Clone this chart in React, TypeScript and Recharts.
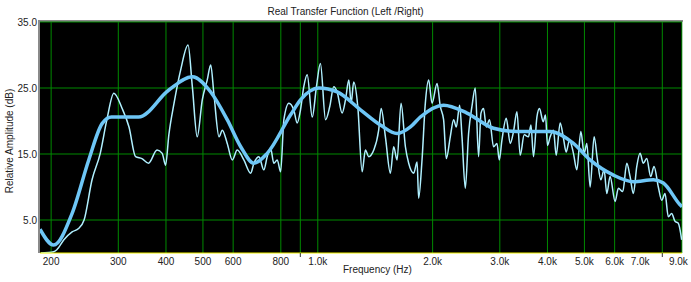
import React from "react";
import { LineChart, Line, XAxis, YAxis, CartesianGrid } from "recharts";

// smoothed (fractional-octave) response
const smoothFreq = [187, 203, 227, 251, 272, 288, 339, 407, 469, 524, 579, 628, 680, 737, 848, 901, 1006, 1124, 1294, 1459, 1614, 1749, 1857, 2137, 2461, 2888, 3327, 4066, 4679, 5174, 5956, 6719, 7580, 8051, 8903, 9010];
const smoothDb = [3.6, 1.2, 6.0, 14.1, 19.6, 20.6, 20.6, 24.7, 26.7, 24.4, 20.2, 16.1, 13.6, 15.1, 20.9, 23.2, 25.0, 24.4, 21.7, 19.4, 18.1, 19.1, 20.6, 22.4, 21.2, 18.9, 18.4, 18.4, 16.6, 14.1, 11.8, 10.8, 11.1, 10.6, 7.3, 7.0];

// raw response
const rawFreq = [
  188, 203, 207, 216, 227, 236, 244, 256, 269, 280, 292, 307, 320, 333, 346, 360, 379, 391, 399, 407,
  420, 437, 457, 469, 483, 498, 513, 524, 534, 551, 562, 579, 597, 615, 640, 667, 680, 701, 722, 737,
  752, 767, 783, 799, 815, 840, 865, 883, 901, 919, 938, 967, 992, 1016, 1048, 1075, 1101, 1124, 1158, 1182,
  1206, 1223, 1242, 1273, 1307, 1333, 1360, 1402, 1444, 1466, 1504, 1550, 1581, 1614, 1653, 1697, 1731, 1784, 1821, 1838,
  1876, 1914, 1953, 1993, 2054, 2095, 2137, 2172, 2225, 2270, 2307, 2354, 2388, 2436, 2485, 2536, 2587, 2639, 2678, 2720,
  2765, 2820, 2889, 2949, 2990, 3039, 3119, 3195, 3259, 3327, 3393, 3476, 3567, 3620, 3677, 3753, 3812, 3898, 3952, 4001,
  4066, 4148, 4216, 4319, 4405, 4478, 4568, 4679, 4776, 4893, 4991, 5073, 5175, 5301, 5408, 5520, 5631, 5723, 5838, 6017,
  6137, 6302, 6456, 6585, 6718, 6857, 6995, 7135, 7282, 7460, 7610, 7810, 7971, 8132, 8295, 8467, 8637, 8811, 8993,
];
const rawDb = [
  0.0, 0.2, 0.5, 2.0, 3.2, 3.7, 5.0, 11.1, 15.1, 20.2, 24.2, 21.9, 19.1, 14.6, 14.3, 13.6, 15.6, 15.1, 13.3, 17.9,
  22.7, 27.7, 31.5, 25.2, 17.6, 23.2, 26.2, 28.5, 24.2, 17.6, 18.6, 16.6, 14.1, 15.6, 14.1, 12.1, 13.6, 14.6, 12.6, 14.6,
  15.9, 13.6, 14.1, 12.3, 20.2, 22.7, 21.7, 19.7, 21.7, 25.2, 27.0, 20.6, 25.2, 28.7, 20.2, 22.2, 25.2, 24.4, 21.2, 23.2,
  26.2, 22.7, 25.9, 22.2, 12.3, 15.6, 14.6, 15.6, 18.6, 21.9, 17.6, 12.1, 16.1, 14.1, 22.7, 16.1, 13.6, 12.1, 13.8, 8.3,
  14.1, 22.7, 26.2, 22.7, 25.7, 22.2, 20.2, 14.3, 17.6, 20.2, 19.1, 22.4, 17.6, 9.8, 18.1, 22.2, 25.0, 14.6, 21.2, 21.9,
  19.1, 20.2, 16.1, 16.6, 14.1, 17.1, 20.4, 16.6, 18.4, 21.4, 14.8, 17.9, 17.6, 19.4, 14.6, 20.6, 21.9, 19.9, 20.9, 16.3,
  17.6, 18.6, 14.8, 19.7, 17.4, 15.3, 17.1, 15.1, 12.6, 18.4, 15.1, 16.6, 10.0, 17.6, 14.1, 11.1, 12.6, 9.0, 11.6, 7.8,
  9.8, 9.3, 13.6, 11.6, 9.0, 13.1, 15.1, 13.6, 14.3, 11.6, 13.1, 10.0, 8.0, 9.0, 5.5, 6.0, 4.8, 4.5, 2.0,
];

const gridFreqs = [200, 300, 400, 500, 600, 800, 900, 1000, 2000, 3000, 4000, 5000, 6000, 8000, 9000];
const tickFreqs = [200, 300, 400, 500, 600, 800, 900, 1000, 2000, 3000, 4000, 5000, 6000, 7000, 8000, 9000];
const tickLabels = ["200", "300", "400", "500", "600", "800", "", "1.0k", "2.0k", "3.0k", "4.0k", "5.0k", "6.0k", "7.0k", "", "9.0k"];
const dbTicks = [5, 15, 25, 35];

const smoothData = smoothFreq.map((f, i) => ({ f, db: smoothDb[i] }));
const rawData = rawFreq.map((f, i) => ({ f, db: rawDb[i] }));

const FONT = '"Liberation Sans", Arial, sans-serif';
const GREEN = "#008a00";

function FreqTick(props: any) {
  const { x, y, payload } = props;
  const label = tickLabels[tickFreqs.indexOf(payload.value)];
  if (!label) {
    return <line x1={x} x2={x} y1={y} y2={y + 4} stroke="#333" />;
  }
  const last = payload.value === 9000;
  return (
    <text
      x={last ? x + 6 : x}
      y={y + 12}
      textAnchor={last ? "end" : "middle"}
      fontSize={10}
      fontFamily={FONT}
      fill="#222"
    >
      {label}
    </text>
  );
}

export default function App() {
  return (
    <div style={{ position: "absolute", left: 0, top: 0, width: 691, height: 282, background: "#fff" }}>
      <div
        style={{
          position: "absolute", left: 0, top: 6, width: 691, textAlign: "center",
          fontFamily: FONT, fontSize: 10, color: "#222",
        }}
      >
        Real Transfer Function (Left /Right)
      </div>
      <div style={{ position: "absolute", left: 39, top: 20, width: 644, height: 2, background: "#8a8a8a" }} />
      <div style={{ position: "absolute", left: 38, top: 20, width: 2, height: 233, background: "#8a8a8a" }} />
      <LineChart width={691} height={282} margin={{ top: 22, right: 9, bottom: 0, left: 0 }}>
        <CartesianGrid
          fill="#000"
          fillOpacity={1}
          stroke={GREEN}
          horizontalValues={dbTicks}
          verticalValues={gridFreqs}
        />
        <XAxis
          dataKey="f"
          type="number"
          scale="log"
          domain={[187, 9010]}
          allowDataOverflow
          ticks={tickFreqs}
          interval={0}
          height={29}
          tickSize={0}
          tickMargin={0}
          tickLine={false}
          axisLine={{ stroke: "#f0f000" }}
          tick={<FreqTick />}
          label={{
            content: () => (
              <text x={343} y={273} fontSize={10} fontFamily={FONT} fill="#222">
                Frequency (Hz)
              </text>
            ),
          }}
        />
        <YAxis
          dataKey="db"
          type="number"
          domain={[0, 35]}
          allowDataOverflow
          ticks={dbTicks}
          interval={0}
          width={40}
          tickSize={0}
          tickLine={false}
          axisLine={false}
          tickMargin={3}
          tickFormatter={(v: number) => v.toFixed(1)}
          tick={{ fontSize: 10, fontFamily: FONT, fill: "#222" }}
          label={{
            content: () => (
              <text
                x={13}
                y={141}
                transform="rotate(-90 13 141)"
                textAnchor="middle"
                fontSize={10}
                fontFamily={FONT}
                fill="#222"
              >
                Relative Amplitude (dB)
              </text>
            ),
          }}
        />
        <Line
          data={rawData}
          dataKey="db"
          type="monotone"
          stroke="#b0f0ff"
          strokeWidth={1.5}
          dot={false}
          isAnimationActive={false}
        />
        <Line
          data={smoothData}
          dataKey="db"
          type="monotone"
          stroke="#6ec6f6"
          strokeWidth={3.5}
          dot={false}
          isAnimationActive={false}
        />
      </LineChart>
    </div>
  );
}
